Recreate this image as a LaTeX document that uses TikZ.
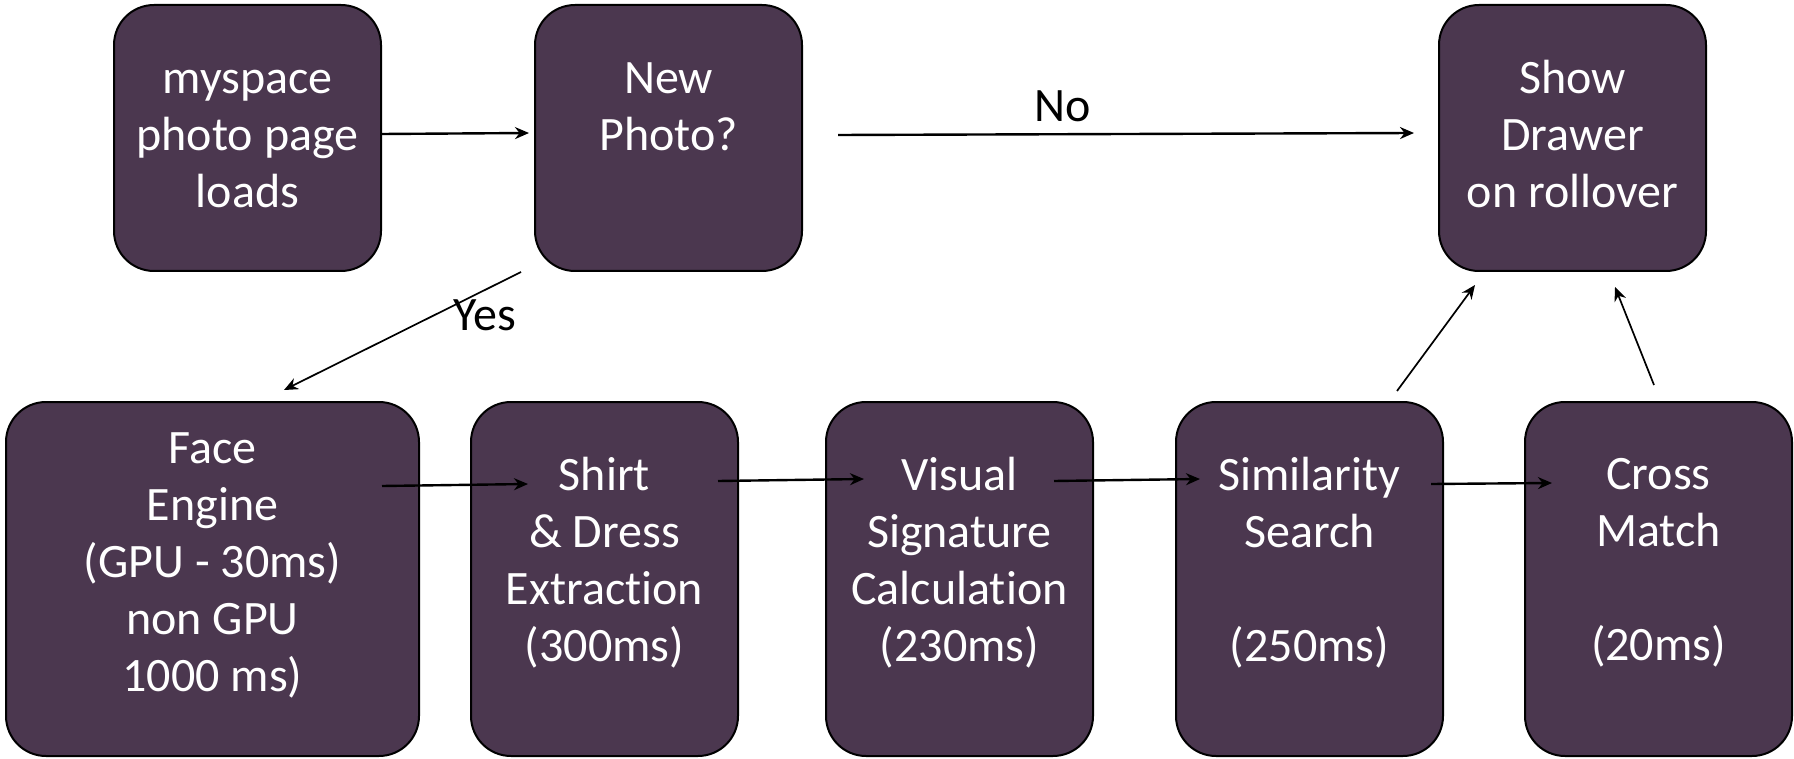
\documentclass[tikz,border=0pt]{standalone}
\usepackage{fontspec}
\setmainfont{Carlito}[Ligatures=NoCommon]
\usetikzlibrary{arrows.meta,calc}
\definecolor{boxfill}{HTML}{4B374F}
\begin{document}
\begin{tikzpicture}[x=0.5pt,y=-0.5pt,
  stagebox/.style={draw=black,line width=1pt,fill=boxfill,rounded corners=20pt,
    inner sep=0pt,minimum height=#1},
  stagebox/.default=133pt,
  txt/.style={text=white,align=center,inner sep=0pt,
    font=\fontsize{24}{28.5}\selectfont},
  lbl/.style={text=black,inner sep=0pt,font=\fontsize{24}{28.5}\selectfont},
  arr/.style={draw=black,line width=1.2pt,-{Stealth[length=7pt,width=6pt]}},
  thinarr/.style={draw=black,line width=0.85pt,-{Stealth[length=7pt,width=6pt]}}]
\useasboundingbox (0,0) rectangle (1794,759);

% top row
\node[stagebox,minimum width=133.5pt] (load)  at (247.5,138) {};
\node[stagebox,minimum width=133.5pt] (photo) at (668.5,138) {};
\node[stagebox,minimum width=133.5pt] (show)  at (1572.5,138) {};
% bottom row
\node[stagebox=177pt,minimum width=206.5pt] (face)   at (212.5,579) {};
\node[stagebox=177pt,minimum width=133.5pt] (shirt)  at (604.5,579) {};
\node[stagebox=177pt,minimum width=133.5pt] (visual) at (959.5,579) {};
\node[stagebox=177pt,minimum width=133.5pt] (sim)    at (1309.5,579) {};
\node[stagebox=177pt,minimum width=133.5pt] (cross)  at (1658.5,579) {};

% texts
\node[txt] (tload)  at (247.5,139) {myspace\\photo page\\loads};
\node[txt] (tphoto) at (668.5,135) {New\\Photo?\\\mbox{}};
\node[txt] (tshow)  at (1572.5,134) {Show\\Drawer\\on rollover};
\node[txt] (tface)  at (212.5,565.5) {Face\\Engine\\(GPU - 30ms)\\non GPU\\1000 ms)};
\node[txt] (tshirt) at (604.5,562.5) {Shirt\\\& Dress\\Extraction\\(300ms)};
\node[txt] (tvis)   at (959.5,562.5) {Visual\\Signature\\Calculation\\(230ms)};
\node[txt] (tsim)   at (1309.5,562.5) {Similarity\\Search\\\mbox{}\\(250ms)};
\node[txt] (tcross) at (1658.5,562.5) {Cross\\Match\\\mbox{}\\(20ms)};

% connectors
\draw[arr] ($(load.east)+(0,-4)$) -- ($(photo.west)+(-5,-5)$);
\draw[arr] ($(photo.east)+(35,-3)$) -- ($(show.west)+(-24,-5)$);
\draw[thinarr] ($(photo.south)+(-147.5,0)$) -- ($(face.north)+(71.5,-11)$);
\draw[arr] ($(face.east)+(-38,-93)$) -- ($(shirt.west)+(58,-95)$);
\draw[arr] ($(shirt.east)+(-21,-98)$) -- ($(visual.west)+(39,-100)$);
\draw[arr] ($(visual.east)+(-40,-98)$) -- ($(sim.west)+(25,-100)$);
\draw[arr] ($(sim.east)+(-13,-95)$) -- ($(cross.west)+(28,-96)$);
\draw[thinarr] ($(sim.north)+(87.5,-10)$) -- ($(show.south)+(-97.5,13)$);
\draw[thinarr] ($(cross.north)+(-4.5,-16)$) -- ($(show.south)+(42.5,15)$);

% branch labels
\node[lbl] (no)  at (1063,106) {No};
\node[lbl] (yes) at (485,315) {Yes};
\end{tikzpicture}
\end{document}
